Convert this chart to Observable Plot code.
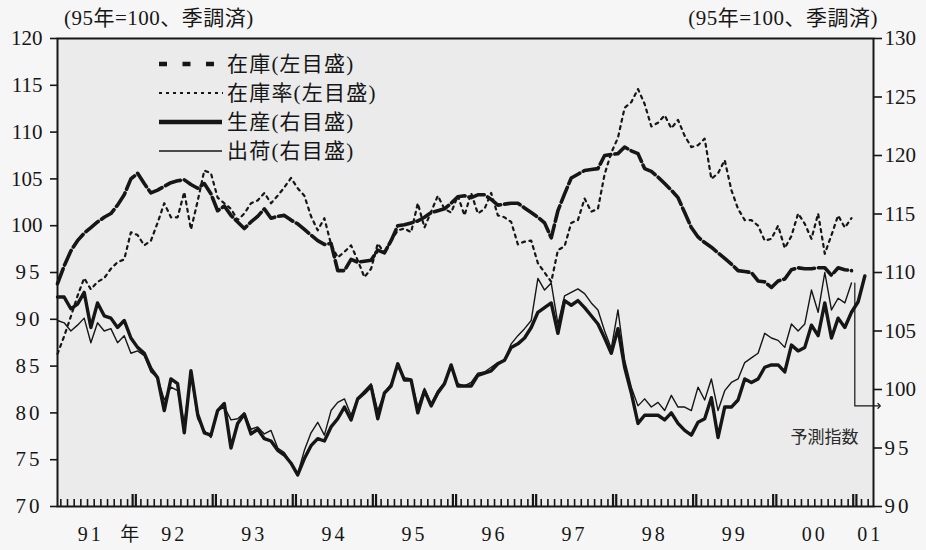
<!DOCTYPE html>
<html><head><meta charset="utf-8">
<script src="https://cdn.jsdelivr.net/npm/d3@7"></script>
<script src="https://cdn.jsdelivr.net/npm/@observablehq/plot@0.6"></script>
<style>
html,body{margin:0;padding:0;background:#f6f6f6;}
#wrap{position:relative;width:926px;height:550px;font-family:"Liberation Serif","Noto Sans CJK JP",serif;color:#161616;}
.hdr{position:absolute;top:6px;font-size:21px;white-space:nowrap;line-height:24px;letter-spacing:0.5px;}
#legend{position:absolute;left:0;top:0;pointer-events:none;}
</style></head><body>
<div id="wrap">
 <div class="hdr" style="left:64px">(95年=100、季調済)</div>
 <div class="hdr" style="right:48px">(95年=100、季調済)</div>
</div>
<script>
// Monthly series, Jan 1991 = index 0
const inventory = [
 93.8,95.7,97.3,98.4,99.2,99.8,100.4,100.9,101.3,102.2,
 103.3,105.0,105.6,104.5,103.5,103.8,104.2,104.6,104.8,104.9,
 104.4,104.0,104.5,103.4,101.6,102.1,101.1,100.4,99.7,100.4,
 101.0,101.8,100.8,101.0,101.1,100.6,100.2,99.6,99.0,98.4,
 98.0,98.1,95.2,95.2,96.4,96.1,96.2,96.3,97.4,97.1,
 98.4,100.0,100.1,100.3,100.5,100.9,101.4,101.6,101.8,102.4,
 103.1,103.2,103.0,103.3,103.3,102.8,102.2,102.3,102.4,102.4,
 101.9,101.4,100.9,100.3,98.7,101.6,103.4,105.1,105.5,105.9,
 106.0,106.1,107.5,107.6,107.7,108.4,108.0,107.7,106.1,105.8,
 105.2,104.5,103.8,103.0,101.4,99.8,98.8,98.2,97.7,97.1,
 96.5,95.9,95.2,95.1,95.0,94.1,94.0,93.4,94.1,94.3,
 95.3,95.5,95.4,95.4,95.5,95.5,94.7,95.5,95.3,95.2];
const inventoryRatio = [
 86.3,88.2,90.3,92.5,94.4,93.2,94.0,94.4,95.4,96.1,
 96.4,99.3,99.0,97.9,98.4,100.3,102.4,100.9,100.9,103.6,
 99.6,102.6,105.9,105.6,103.0,102.4,101.8,100.6,101.3,102.4,
 102.7,103.5,102.4,103.2,104.1,105.1,104.0,103.2,101.0,99.5,
 100.8,98.0,96.6,97.2,97.9,96.3,94.5,95.4,98.1,97.1,
 98.4,99.5,99.7,99.3,102.4,99.8,101.5,103.2,101.8,101.4,
 103.2,101.1,103.5,101.3,101.8,103.5,101.1,100.9,100.4,98.0,
 98.3,98.4,96.0,95.0,94.0,97.4,97.8,100.3,100.6,102.9,
 101.5,101.8,105.5,107.8,109.4,112.6,113.2,114.6,113.0,110.6,
 111.0,111.8,110.4,111.3,109.6,108.4,108.6,109.3,105.0,105.6,
 107.0,103.8,101.8,100.6,100.6,100.0,98.4,98.6,100.0,97.6,
 98.9,101.3,100.2,98.6,101.3,97.0,99.0,101.1,99.8,100.8];
const production = [
 107.9,107.9,106.9,107.3,108.3,105.3,107.4,106.3,106.1,105.3,
 105.9,104.4,103.6,103.1,101.8,101.0,98.2,100.9,100.5,96.3,
 101.6,97.9,96.3,96.1,98.2,98.8,95.0,97.1,97.9,96.2,
 96.6,95.8,95.6,94.8,94.4,93.7,92.7,94.1,95.2,95.8,
 95.6,96.8,97.5,98.5,97.4,99.2,99.7,100.3,97.5,99.7,
 100.3,102.2,100.8,100.8,98.0,99.9,98.6,99.7,100.5,102.1,
 100.3,100.3,100.3,101.2,101.4,101.6,102.2,102.5,103.6,103.9,
 104.4,105.3,106.6,107.0,107.4,104.8,107.6,107.2,107.6,107.0,
 106.3,105.6,104.4,103.1,105.2,101.9,99.7,97.1,97.8,97.8,
 97.8,97.4,98.0,97.1,96.5,96.1,97.2,97.5,99.3,95.9,
 98.5,98.5,99.1,100.9,100.6,100.9,101.9,102.1,102.1,101.5,
 103.8,103.3,103.6,105.5,104.6,107.4,104.4,106.1,105.3,106.6,
 107.5,109.7];
const shipments = [
 105.9,105.7,105.0,105.5,106.1,104.0,105.7,105.0,105.2,104.0,
 104.6,103.1,103.3,102.9,101.5,101.0,99.1,100.2,99.9,97.1,
 101.4,97.5,96.5,95.9,98.2,98.5,97.4,97.5,98.0,96.6,
 96.8,96.2,96.5,95.0,94.6,93.7,92.8,94.8,96.3,97.2,
 96.1,98.2,98.9,99.2,97.8,99.3,99.9,100.5,98.2,99.7,
 100.5,102.0,101.0,100.9,98.5,100.1,98.8,99.9,100.6,101.9,
 100.5,100.3,100.6,101.4,101.5,101.9,102.3,102.5,103.9,104.6,
 105.2,105.9,109.5,108.5,109.1,105.6,108.0,108.3,108.6,108.2,
 107.4,106.8,105.0,103.5,106.8,102.5,100.2,98.6,99.2,98.5,
 98.9,98.2,99.5,98.5,98.5,98.2,100.2,99.1,100.9,98.2,
 99.9,100.6,100.9,102.3,102.7,103.1,104.8,104.4,104.2,103.6,
 105.6,105.0,105.6,108.5,106.6,110.0,106.8,107.8,107.4,109.1];
const leftTicks = [70,75,80,85,90,95,100,105,110,115,120];
const rightTicks = [90,95,100,105,110,115,120,125,130];
const yearLabels = ["91","92","93","94","95","96","97","98","99","00","01"];
const yearSuffix = "年";
const legendLabels = ["在庫(左目盛)","在庫率(左目盛)","生産(右目盛)","出荷(右目盛)"];
const forecastLabel = "予測指数";
const forecastStart = 119.5;   // month index where forecast begins
const forecastArrowLevel = 98.6; // right-axis level of the bracket

const FONT = '"Liberation Serif","Noto Sans CJK JP",serif';
const INK = "#161616";
const xMax = 122.3;
const toLeft = v => 70 + (v - 90) * 1.25;       // right axis -> left axis units
const fromLeft = v => 90 + (v - 70) / 1.25;

const rows = (arr, conv) => arr.map((v, i) => ({i, v: conv ? conv(v) : v}));
const invRows = rows(inventory);
const ratioRows = rows(inventoryRatio);
const prodRows = rows(production, toLeft);
const shipRows = rows(shipments, toLeft);

const bounds = d3.range(1, 123).map(k => k - 0.5).filter(b => b < xMax);
const minor = bounds.filter(b => (b + 0.5) % 12 !== 0);
const major = bounds.filter(b => (b + 0.5) % 12 === 0);
const yearRows = yearLabels.map((label, k) => {
  const a = Math.max(12 * k - 0.5, 0), b = Math.min(12 * k + 11.5, xMax);
  return {label, i: (a + b) / 2};
});
const innerH = 550 - 38 - 44;
const bracket = [
  {i: forecastStart, v: toLeft(shipments[shipments.length - 1])},
  {i: forecastStart, v: toLeft(forecastArrowLevel)},
  {i: xMax + 0.85, v: toLeft(forecastArrowLevel)}
];

const chart = Plot.plot({
  width: 926, height: 550,
  marginLeft: 57, marginRight: 53, marginTop: 38, marginBottom: 44,
  x: {domain: [0, xMax], axis: null},
  y: {domain: [70, 120], axis: null},
  style: {background: "transparent", fontFamily: FONT, fontSize: "21px", color: INK, overflow: "visible"},
  marks: [
    Plot.frame({fill: "#ebebeb", stroke: null}),
    Plot.tickX(minor, {x: d => d, insetTop: innerH - 7, stroke: INK, strokeWidth: 1.6}),
    Plot.tickX(major, {x: d => d, insetTop: innerH - 12, dx: -1.6, stroke: INK, strokeWidth: 2.2}),
    Plot.tickX(major, {x: d => d, insetTop: innerH - 12, dx: 1.6, stroke: INK, strokeWidth: 2.2}),
    Plot.line(ratioRows, {x: "i", y: "v", stroke: INK, strokeWidth: 2.2, strokeDasharray: "3,4.5"}),
    Plot.line(invRows, {x: "i", y: "v", stroke: INK, strokeWidth: 3.6, strokeDasharray: "16,4"}),
    Plot.line(shipRows, {x: "i", y: "v", stroke: INK, strokeWidth: 1.4}),
    Plot.line(prodRows, {x: "i", y: "v", stroke: INK, strokeWidth: 3.4}),
    Plot.line(bracket, {x: "i", y: "v", stroke: INK, strokeWidth: 1.2, markerEnd: "arrow", curve: "linear"}),
    Plot.text([forecastLabel], {frameAnchor: "bottom-right", dx: -15, dy: -69, textAnchor: "end", lineAnchor: "middle",
      fontSize: 17, fontFamily: '"Noto Sans CJK JP",sans-serif', fill: "#2a2a2a"}),
    Plot.axisY({anchor: "left", label: null, ticks: leftTicks, tickSize: 7, tickPadding: 8, fontSize: 21, fontFamily: FONT, strokeWidth: 1.6, tickFormat: d => String(d)}),
    Plot.axisY({anchor: "right", label: null, ticks: rightTicks.map(toLeft), tickSize: 8, tickPadding: 3, fontSize: 21, fontFamily: FONT, strokeWidth: 1.6,
      tickFormat: d => String(Math.round(fromLeft(d)))}),
    Plot.text(yearRows.slice(1, -1), {x: "i", text: "label", frameAnchor: "bottom", dy: 28, lineAnchor: "middle", fontSize: 20, fontFamily: FONT, fill: INK}),
    Plot.text(yearRows.slice(0, 1), {x: "i", text: "label", frameAnchor: "bottom", dy: 28, dx: -5, lineAnchor: "middle", fontSize: 20, fontFamily: FONT, fill: INK}),
    Plot.text(yearRows.slice(0, 1), {x: "i", text: () => yearSuffix, frameAnchor: "bottom", dy: 28, dx: 34, lineAnchor: "middle", fontSize: 19, fontFamily: FONT, fill: INK}),
    Plot.text(yearRows.slice(-1), {x: "i", text: "label", frameAnchor: "bottom", dy: 28, dx: 6, lineAnchor: "middle", fontSize: 20, fontFamily: FONT, fill: INK}),
    Plot.frame({stroke: INK, strokeWidth: 2})
  ]
});
// letter spacing for year labels
chart.querySelectorAll("text").forEach(t => { if (/^\d\d$/.test(t.textContent)) t.setAttribute("letter-spacing", "3"); });
document.getElementById("wrap").appendChild(chart);

// Legend overlay
const lg = d3.select("#wrap").append("svg").attr("id", "legend").attr("width", 926).attr("height", 550);
const legendRowsY = [64, 93, 122, 151];
const legendStyles = [
  {w: 4.5, dash: "8,15.5", x2: 216},
  {w: 2, dash: "3,4", x2: 223},
  {w: 4.6, dash: null, x2: 222},
  {w: 1.4, dash: null, x2: 222}
];
legendLabels.forEach((label, k) => {
  const s = legendStyles[k];
  lg.append("line").attr("x1", 159).attr("x2", s.x2).attr("y1", legendRowsY[k]).attr("y2", legendRowsY[k])
    .attr("stroke", INK).attr("stroke-width", s.w).attr("stroke-dasharray", s.dash);
  lg.append("text").attr("x", 227).attr("y", legendRowsY[k]).attr("dominant-baseline", "central")
    .attr("font-family", FONT).attr("font-size", 21).attr("letter-spacing", 1.2).attr("fill", INK).text(label);
});
</script>
</body></html>
